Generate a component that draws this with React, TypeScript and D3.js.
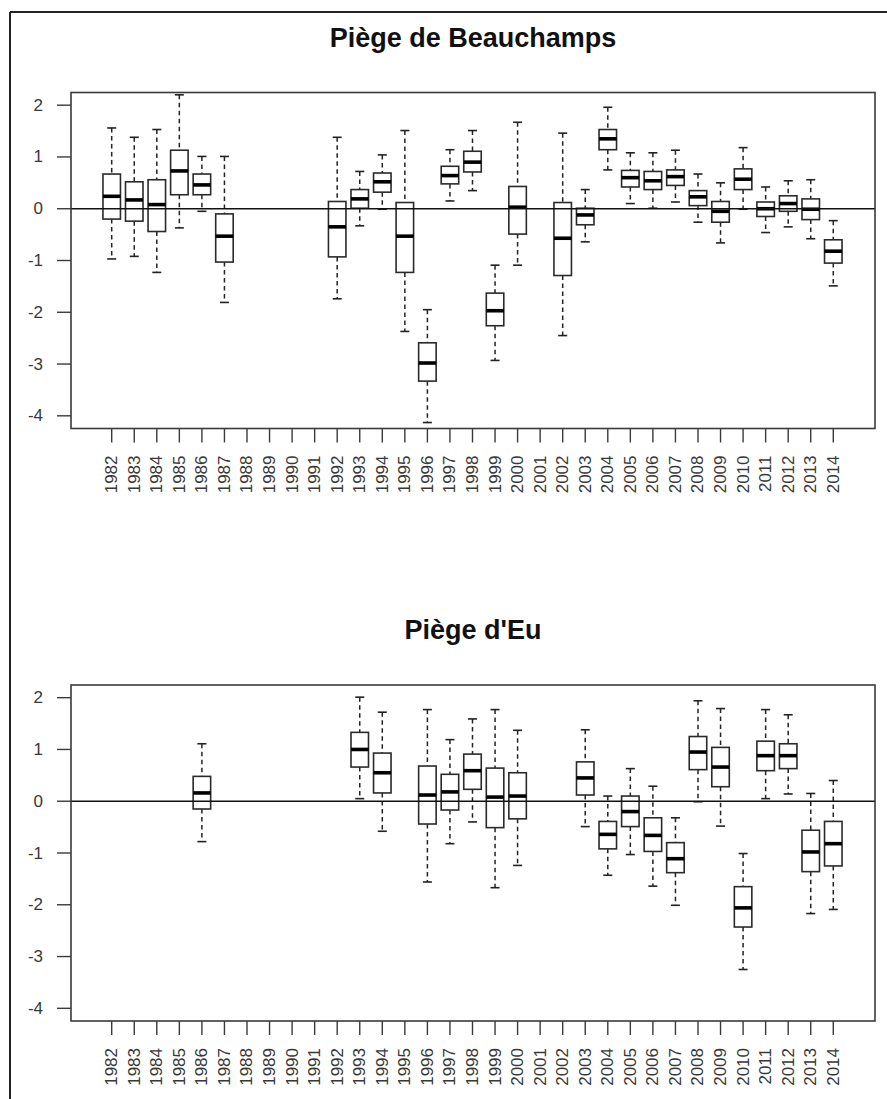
import React from "react";
import * as d3 from "d3";

const allYears: number[] = d3.range(1982, 2015);
const yTicks: number[] = [2, 1, 0, -1, -2, -3, -4];

const beauTitle = "Piège de Beauchamps";
const beauYears = [1982, 1983, 1984, 1985, 1986, 1987, 1992, 1993, 1994, 1995, 1996, 1997, 1998, 1999, 2000, 2002, 2003, 2004, 2005, 2006, 2007, 2008, 2009, 2010, 2011, 2012, 2013, 2014];
const beauHigh = [1.56, 1.38, 1.53, 2.2, 1.01, 1.01, 1.38, 0.72, 1.04, 1.51, -1.95, 1.14, 1.51, -1.09, 1.67, 1.46, 0.37, 1.96, 1.08, 1.08, 1.13, 0.67, 0.5, 1.18, 0.42, 0.54, 0.56, -0.23];
const beauQ3 = [0.67, 0.52, 0.56, 1.13, 0.67, -0.1, 0.14, 0.37, 0.69, 0.12, -2.59, 0.82, 1.11, -1.63, 0.43, 0.12, 0.01, 1.53, 0.74, 0.72, 0.75, 0.35, 0.14, 0.77, 0.13, 0.25, 0.19, -0.6];
const beauMed = [0.24, 0.17, 0.08, 0.73, 0.46, -0.53, -0.35, 0.19, 0.52, -0.53, -2.98, 0.64, 0.9, -1.97, 0.03, -0.57, -0.12, 1.35, 0.6, 0.54, 0.62, 0.23, -0.05, 0.57, 0.0, 0.1, -0.01, -0.82];
const beauQ1 = [-0.2, -0.24, -0.44, 0.27, 0.27, -1.03, -0.93, 0.01, 0.32, -1.23, -3.33, 0.48, 0.71, -2.26, -0.49, -1.29, -0.31, 1.14, 0.42, 0.37, 0.45, 0.06, -0.26, 0.37, -0.15, -0.05, -0.21, -1.05];
const beauLow = [-0.97, -0.92, -1.23, -0.37, -0.05, -1.81, -1.74, -0.33, -0.01, -2.37, -4.13, 0.15, 0.35, -2.93, -1.09, -2.45, -0.64, 0.75, 0.1, 0.01, 0.13, -0.26, -0.66, -0.01, -0.46, -0.35, -0.58, -1.49];

const euTitle = "Piège d'Eu";
const euYears = [1986, 1993, 1994, 1996, 1997, 1998, 1999, 2000, 2003, 2004, 2005, 2006, 2007, 2008, 2009, 2010, 2011, 2012, 2013, 2014];
const euHigh = [1.11, 2.01, 1.72, 1.77, 1.19, 1.59, 1.77, 1.37, 1.38, 0.1, 0.63, 0.29, -0.32, 1.94, 1.79, -1.01, 1.77, 1.67, 0.15, 0.4];
const euQ3 = [0.48, 1.33, 0.93, 0.68, 0.52, 0.91, 0.64, 0.55, 0.76, -0.39, 0.1, -0.32, -0.8, 1.25, 1.04, -1.65, 1.16, 1.11, -0.56, -0.39];
const euMed = [0.16, 1.0, 0.55, 0.12, 0.18, 0.59, 0.08, 0.1, 0.45, -0.64, -0.2, -0.66, -1.11, 0.95, 0.66, -2.06, 0.88, 0.88, -0.98, -0.82];
const euQ1 = [-0.15, 0.66, 0.16, -0.44, -0.17, 0.23, -0.51, -0.34, 0.12, -0.92, -0.49, -0.97, -1.38, 0.61, 0.28, -2.43, 0.59, 0.63, -1.36, -1.25];
const euLow = [-0.78, 0.05, -0.58, -1.56, -0.82, -0.4, -1.67, -1.24, -0.49, -1.43, -1.03, -1.64, -2.01, -0.01, -0.48, -3.25, 0.05, 0.14, -2.17, -2.09];

const FONT = "'Liberation Sans', Arial, Helvetica, sans-serif";
const W = 887;
const H = 1099;
const plotLeft = 71;
const plotRight = 875;
const plotH = 336;
const boxW = 17.5;
const capW = 9;

type PanelProps = {
  title: string;
  top: number;
  years: number[];
  low: number[];
  q1: number[];
  med: number[];
  q3: number[];
  high: number[];
};

function Panel({ title, top, years, low, q1, med, q3, high }: PanelProps) {
  const bottom = top + plotH;
  const x = d3.scaleLinear().domain([1980.195, 2015.85]).range([plotLeft, plotRight]);
  const y = d3.scaleLinear().domain([-4.245, 2.245]).range([bottom, top]);
  const axisCol = "#3a3a3a";
  const textCol = "#383838";
  return (
    <g>
      <text
        x={(plotLeft + plotRight) / 2}
        y={top - 46}
        textAnchor="middle"
        fontFamily={FONT}
        fontWeight="bold"
        fontSize={27}
        fill="#111"
      >
        {title}
      </text>
      {years.map((yr, i) => {
        const cx = x(yr);
        return (
          <g key={yr}>
            <line x1={cx} x2={cx} y1={y(high[i])} y2={y(q3[i])} stroke="#222" strokeWidth={1.5} strokeDasharray="4.5,3.5" />
            <line x1={cx} x2={cx} y1={y(q1[i])} y2={y(low[i])} stroke="#222" strokeWidth={1.5} strokeDasharray="4.5,3.5" />
            <line x1={cx - capW / 2} x2={cx + capW / 2} y1={y(high[i])} y2={y(high[i])} stroke="#222" strokeWidth={1.6} />
            <line x1={cx - capW / 2} x2={cx + capW / 2} y1={y(low[i])} y2={y(low[i])} stroke="#222" strokeWidth={1.6} />
            <rect
              x={cx - boxW / 2}
              y={y(q3[i])}
              width={boxW}
              height={y(q1[i]) - y(q3[i])}
              fill="white"
              stroke="#2a2a2a"
              strokeWidth={1.6}
            />
            <line x1={cx - boxW / 2} x2={cx + boxW / 2} y1={y(med[i])} y2={y(med[i])} stroke="#000" strokeWidth={3.6} />
          </g>
        );
      })}
      <line x1={plotLeft} x2={plotRight} y1={y(0)} y2={y(0)} stroke="#111" strokeWidth={1.4} />
      <rect x={plotLeft} y={top} width={plotRight - plotLeft} height={plotH} fill="none" stroke={axisCol} strokeWidth={1.6} />
      {yTicks.map((t) => (
        <g key={t}>
          <line x1={plotLeft - 14} x2={plotLeft} y1={y(t)} y2={y(t)} stroke={axisCol} strokeWidth={1.4} />
          <text
            x={plotLeft - 28}
            y={y(t)}
            textAnchor="end"
            dominantBaseline="central"
            fontFamily={FONT}
            fontSize={17}
            fill={textCol}
          >
            {t}
          </text>
        </g>
      ))}
      {allYears.map((yr) => (
        <g key={yr}>
          <line x1={x(yr)} x2={x(yr)} y1={bottom} y2={bottom + 14} stroke={axisCol} strokeWidth={1.4} />
          <text
            transform={`translate(${x(yr)},${bottom + 27}) rotate(-90)`}
            textAnchor="end"
            dominantBaseline="central"
            fontFamily={FONT}
            fontSize={17}
            fill={textCol}
          >
            {yr}
          </text>
        </g>
      ))}
    </g>
  );
}

export default function App() {
  return (
    <svg
      width={W}
      height={H}
      viewBox={`0 0 ${W} ${H}`}
      style={{ position: "absolute", left: 0, top: 0, background: "white" }}
    >
      <rect x={0} y={0} width={W} height={H} fill="white" />
      <line x1={10} x2={W} y1={12} y2={12} stroke="#222" strokeWidth={2} />
      <line x1={10} x2={10} y1={12} y2={H} stroke="#222" strokeWidth={2} />
      <Panel title={beauTitle} top={92.5} years={beauYears} low={beauLow} q1={beauQ1} med={beauMed} q3={beauQ3} high={beauHigh} />
      <Panel title={euTitle} top={685} years={euYears} low={euLow} q1={euQ1} med={euMed} q3={euQ3} high={euHigh} />
    </svg>
  );
}
